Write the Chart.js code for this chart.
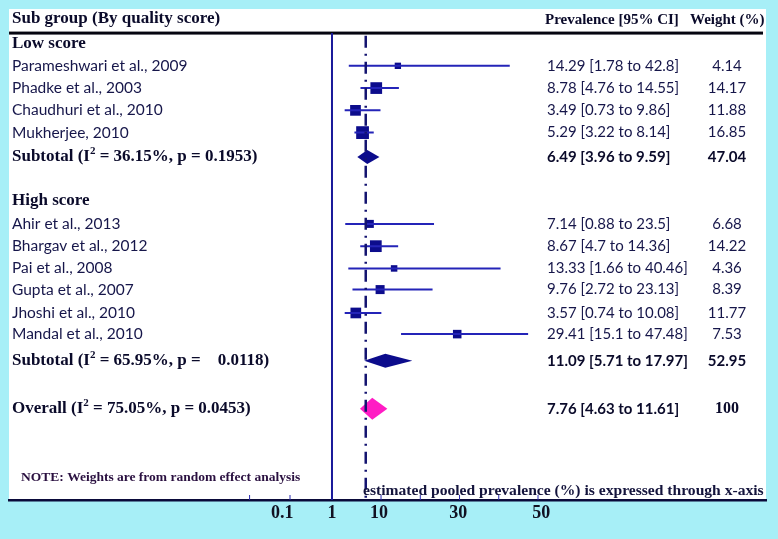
<!DOCTYPE html>
<html>
<head>
<meta charset="utf-8">
<script src="https://cdn.jsdelivr.net/npm/chart.js@4/dist/chart.umd.min.js"></script>
<style>
  html, body { margin: 0; padding: 0; background: #a7eff7; }
  #wrap { width: 778px; height: 539px; }
</style>
</head>
<body>
<div id="wrap"><canvas id="forest" width="778" height="539"></canvas></div>
<script>
// ---- studies ----
const studies = ['Parameshwari et al., 2009', 'Phadke et al., 2003', 'Chaudhuri et al., 2010', 'Mukherjee, 2010',
  'Ahir et al., 2013', 'Bhargav et al., 2012', 'Pai et al., 2008', 'Gupta et al., 2007', 'Jhoshi et al., 2010', 'Mandal et al., 2010'];
const studyRows = [1, 2, 3, 4, 8.1, 9.1, 10.1, 11.05, 12.1, 13.05];
const prevalence = [14.29, 8.78, 3.49, 5.29, 7.14, 8.67, 13.33, 9.76, 3.57, 29.41];
const ciLow = [1.78, 4.76, 0.73, 3.22, 0.88, 4.7, 1.66, 2.72, 0.74, 15.1];
const ciHigh = [42.8, 14.55, 9.86, 8.14, 23.5, 14.36, 40.46, 23.13, 10.08, 47.48];
const weights = [4.14, 14.17, 11.88, 16.85, 6.68, 14.22, 4.36, 8.39, 11.77, 7.53];

// ---- subgroups ----
const groupNames = ['Low score', 'High score'];
const groupRows = [0, 7.05];
const subtotalRows = [5.1, 14.25];
const subEst = [6.49, 11.09];
const subLow = [3.96, 5.71];
const subHigh = [9.59, 17.97];
const subWeight = [47.04, 52.95];
const subI2 = ['36.15', '65.95'];
const subP = ['0.1953', '   0.0118'];

// ---- overall ----
const overallRow = 16.4;
const overallEst = 7.76;
const overallLow = 4.63;
const overallHigh = 11.61;
const overallI2 = '75.05';
const overallP = '0.0453';

// ---- x axis (as printed) ----
const tickValues = [-15.2, -2.5, 9.5, 29.7, 50.8];
const tickLabels = ['0.1', '1', '10', '30', '50'];
const nullLine = -2.5;     // solid line, labelled "1"
const pooledLine = 6.1;    // dash-dot line

const SERIF = '"Liberation Serif", "Times New Roman", serif';
const SANS = 'Lato, "Liberation Sans", sans-serif';
const NAVY = '#0c0c8c';
const TEXT = '#16164a';

// segments lo-hi for every study, split by NaN gaps
const ciData = [];
for (let i = 0; i < studies.length; i++) {
  ciData.push({x: ciLow[i], y: studyRows[i]});
  ciData.push({x: ciHigh[i], y: studyRows[i]});
  ciData.push({x: NaN, y: studyRows[i]});
}
const squareData = prevalence.map((v, i) => ({x: v, y: studyRows[i]}));

function fmtCI(e, l, h) {
  return e + ' [' + l + ' to ' + h + ']';
}

function drawI2(ctx, x, y, head, i2, p, size) {
  ctx.font = 'bold ' + size + 'px ' + SERIF;
  ctx.fillText(head + ' (I', x, y);
  let w = ctx.measureText(head + ' (I').width;
  ctx.font = 'bold ' + Math.round(size * 0.62) + 'px ' + SERIF;
  ctx.fillText('2', x + w, y - size * 0.33);
  w += ctx.measureText('2').width;
  ctx.font = 'bold ' + size + 'px ' + SERIF;
  ctx.fillText(' = ' + i2 + '%, p = ' + p + ')', x + w, y);
}

const forestPlugin = {
  id: 'forest',
  beforeDraw(chart) {
    const {ctx, chartArea: a} = chart;
    ctx.save();
    ctx.fillStyle = '#ffffff';
    ctx.fillRect(a.left, a.top, a.right - a.left, a.bottom - a.top);
    ctx.restore();
  },
  afterDatasetsDraw(chart) {
    const {ctx, chartArea: a} = chart;
    const xs = chart.scales.x, ys = chart.scales.y;
    ctx.save();

    // header
    ctx.textBaseline = 'middle';
    ctx.fillStyle = '#0a0a2a';
    ctx.font = 'bold 17px ' + SERIF;
    ctx.fillText('Sub group (By quality score)', 12, ys.getPixelForValue(-1.1));
    ctx.font = 'bold 15px ' + SERIF;
    ctx.fillText('Prevalence [95% CI]', 545, ys.getPixelForValue(-1.05));
    ctx.fillText('Weight (%)', 690, ys.getPixelForValue(-1.05));
    ctx.fillStyle = '#050510';
    ctx.fillRect(a.left, ys.getPixelForValue(-0.47) - 1.5, a.right - a.left - 3, 3);

    // diamonds
    function diamond(est, lo, hi, row, half, color) {
      const y = ys.getPixelForValue(row);
      ctx.beginPath();
      ctx.moveTo(xs.getPixelForValue(lo), y);
      ctx.lineTo(xs.getPixelForValue(est), y - half);
      ctx.lineTo(xs.getPixelForValue(hi), y);
      ctx.lineTo(xs.getPixelForValue(est), y + half);
      ctx.closePath();
      ctx.fillStyle = color;
      ctx.fill();
    }
    for (let g = 0; g < subEst.length; g++) {
      diamond(subEst[g], subLow[g], subHigh[g], subtotalRows[g], 7, NAVY);
    }
    diamond(overallEst, overallLow, overallHigh, overallRow, 11, '#ff1cc4');

    // reference lines
    const xn = xs.getPixelForValue(nullLine);
    ctx.strokeStyle = '#1a1a9a';
    ctx.lineWidth = 2;
    ctx.beginPath();
    ctx.moveTo(xn, ys.getPixelForValue(-0.47));
    ctx.lineTo(xn, a.bottom);
    ctx.stroke();
    const xp = xs.getPixelForValue(pooledLine);
    ctx.strokeStyle = '#141470';
    ctx.lineWidth = 2.5;
    ctx.setLineDash([12, 6, 2, 6]);
    ctx.beginPath();
    ctx.moveTo(xp, ys.getPixelForValue(-0.35));
    ctx.lineTo(xp, a.bottom);
    ctx.stroke();
    ctx.setLineDash([]);

    // small tick marks above the axis
    ctx.strokeStyle = '#2a2ab0';
    ctx.lineWidth = 1;
    [-23.5, -13.2, 10, 20, 30, 40, 50].forEach(v => {
      const x = xs.getPixelForValue(v);
      ctx.beginPath();
      ctx.moveTo(x, a.bottom - 5);
      ctx.lineTo(x, a.bottom);
      ctx.stroke();
    });

    // groups, subtotals, overall
    for (let g = 0; g < groupNames.length; g++) {
      ctx.font = 'bold 17px ' + SERIF;
      ctx.fillStyle = '#0a0a2a';
      ctx.fillText(groupNames[g], 12, ys.getPixelForValue(groupRows[g]));
      drawI2(ctx, 12, ys.getPixelForValue(subtotalRows[g]), 'Subtotal', subI2[g], subP[g], 17);
      ctx.font = 'bold 15px ' + SANS;
      ctx.fillText(fmtCI(subEst[g], subLow[g], subHigh[g]), 547, ys.getPixelForValue(subtotalRows[g]));
      ctx.textAlign = 'center';
      ctx.fillText(String(subWeight[g]), 727, ys.getPixelForValue(subtotalRows[g]));
      ctx.textAlign = 'left';
    }
    ctx.fillStyle = '#0a0a2a';
    drawI2(ctx, 12, ys.getPixelForValue(overallRow), 'Overall', overallI2, overallP, 17);
    ctx.font = 'bold 15px ' + SANS;
    ctx.fillText(fmtCI(overallEst, overallLow, overallHigh), 547, ys.getPixelForValue(overallRow));
    ctx.textAlign = 'center';
    ctx.font = 'bold 16px ' + SERIF;
    ctx.fillText('100', 727, ys.getPixelForValue(overallRow));
    ctx.textAlign = 'left';

    // studies
    ctx.fillStyle = TEXT;
    for (let i = 0; i < studies.length; i++) {
      const y = ys.getPixelForValue(studyRows[i]);
      ctx.font = '15.5px ' + SANS;
      ctx.fillText(studies[i], 12, y);
      ctx.font = '15px ' + SANS;
      ctx.fillText(fmtCI(prevalence[i], ciLow[i], ciHigh[i]), 547, y);
      ctx.textAlign = 'center';
      ctx.fillText(String(weights[i]), 727, y);
      ctx.textAlign = 'left';
    }

    // notes
    ctx.fillStyle = '#2a1040';
    ctx.font = 'bold 13.5px ' + SERIF;
    ctx.fillText('NOTE: Weights are from random effect analysis', 21, ys.getPixelForValue(19.47));
    ctx.fillStyle = '#14143c';
    ctx.font = 'bold 15.6px ' + SERIF;
    ctx.fillText('estimated pooled prevalence (%) is expressed through x-axis', 363, ys.getPixelForValue(20.1));
    ctx.restore();
  }
};

new Chart(document.getElementById('forest'), {
  type: 'scatter',
  data: {
    datasets: [{
      type: 'line',
      label: 'CI',
      data: ciData,
      showLine: true,
      spanGaps: false,
      borderColor: '#2424b8',
      borderWidth: 2,
      pointRadius: 0
    }, {
      label: 'Prevalence',
      data: squareData,
      pointStyle: 'rect',
      pointRadius: ctx => 2.2 * Math.sqrt(weights[ctx.dataIndex] || 1),
      backgroundColor: NAVY,
      borderColor: NAVY,
      borderWidth: 0
    }]
  },
  options: {
    responsive: false,
    animation: false,
    events: [],
    layout: { padding: { left: 8, right: 12, top: 8, bottom: 0 } },
    plugins: { legend: { display: false }, tooltip: { enabled: false } },
    scales: {
      x: {
        type: 'linear',
        min: -84.8,
        max: 108.1,
        afterBuildTicks: s => { s.ticks = tickValues.map(v => ({value: v})); },
        afterFit: s => { s.height = 39; },
        grid: { display: false, drawTicks: false },
        border: { display: true, color: '#0a0a3a', width: 2.5 },
        ticks: {
          autoSkip: false,
          maxRotation: 0,
          padding: 3,
          color: '#111122',
          font: { family: SERIF, size: 18, weight: 'bold' },
          callback: (v, i) => tickLabels[i]
        }
      },
      y: {
        type: 'linear',
        reverse: true,
        min: -1.55,
        max: 20.5,
        display: false
      }
    }
  },
  plugins: [forestPlugin]
});
</script>
</body>
</html>
